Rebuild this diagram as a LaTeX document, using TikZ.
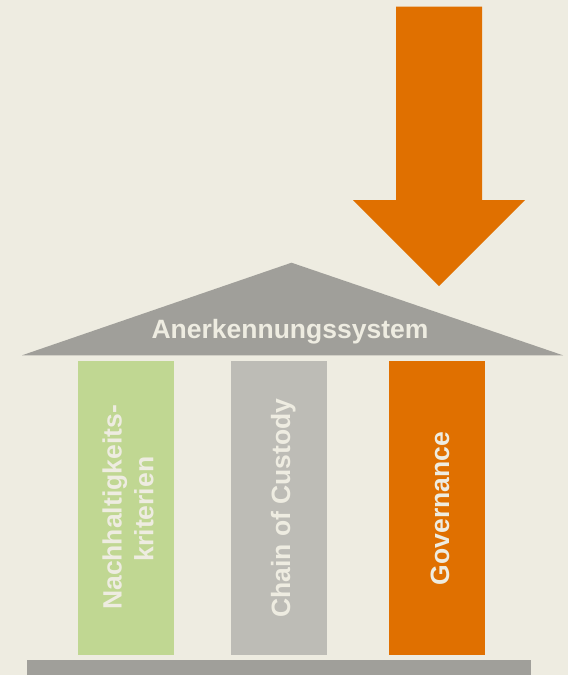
\documentclass[tikz,border=0pt]{standalone}
\usepackage{fontspec}
\setmainfont{Liberation Sans}
\definecolor{bg}{RGB}{238,236,225}
\definecolor{roofgray}{RGB}{160,159,154}
\definecolor{pillargreen}{RGB}{192,215,146}
\definecolor{pillargray}{RGB}{189,188,182}
\definecolor{govorange}{RGB}{224,112,0}
\definecolor{lighttext}{RGB}{238,236,225}
\tikzset{
  label/.style={font=\bfseries\fontsize{26.5}{31.8}\selectfont, text=lighttext, inner sep=0pt, anchor=base},
  vlabel/.style={label, rotate=90}
}
\begin{document}
\begin{tikzpicture}[x=1pt,y=-1pt]
\fill[bg] (0,0) rectangle (568,675);
\useasboundingbox (0,0) rectangle (568,675);
% arrow
\fill[govorange] (396,6.5) -- (482,6.5) -- (482,200) -- (525,200) -- (439,286) -- (353,200) -- (396,200) -- cycle;
% roof
\fill[roofgray] (22,355.3) -- (291.5,262.7) -- (563,355.3) -- cycle;
% pillars
\fill[pillargreen] (78,361) rectangle (174,655);
\fill[pillargray] (231,361) rectangle (327,655);
\fill[govorange] (389,361) rectangle (485,655);
% base
\fill[roofgray] (27,660) rectangle (531,675);
% texts
\node[label] (roof) at (290,338.3) {Anerkennungssystem};
\node[vlabel] (n1) at (121.7,507.5) {Nachhaltigkeits-};
\node[vlabel] (n2) at (153.3,509) {kriterien};
\node[vlabel] (coc) at (290,508) {Chain of Custody};
\node[vlabel] (gov) at (449,508.5) {Governance};
\end{tikzpicture}
\end{document}
